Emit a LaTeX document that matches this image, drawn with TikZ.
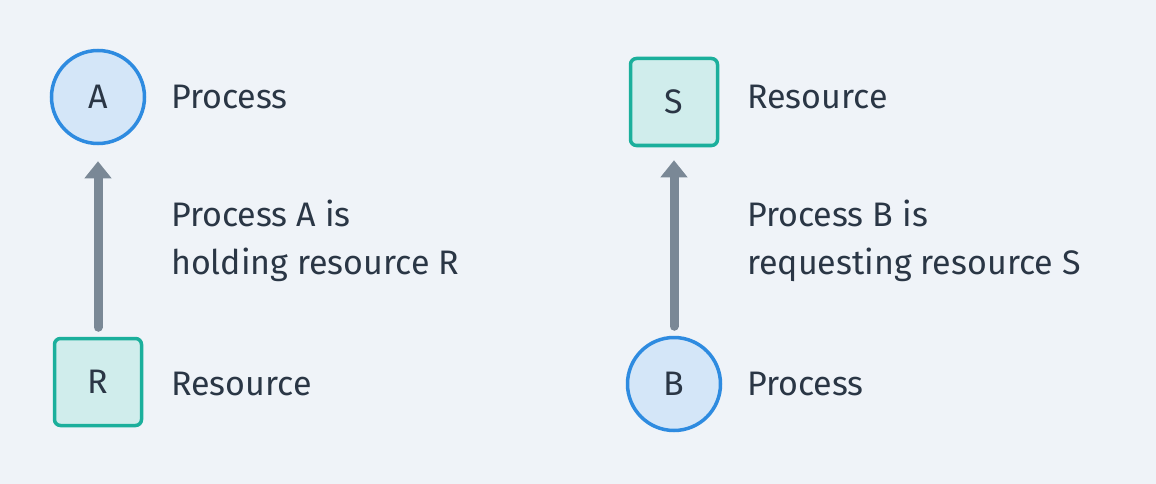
\documentclass[tikz,border=0pt]{standalone}
\usepackage{fontspec}
\setmainfont{Fira Sans}
\usetikzlibrary{arrows.meta}
\definecolor{bgpage}{HTML}{EFF3F8}
\definecolor{procfill}{HTML}{D4E6F8}
\definecolor{procdraw}{HTML}{2E8BE0}
\definecolor{resfill}{HTML}{D0EDEC}
\definecolor{resdraw}{HTML}{1BAF9C}
\definecolor{edgegray}{HTML}{7A8896}
\definecolor{inkdark}{HTML}{2A3645}
\begin{document}
\begin{tikzpicture}[
  x=1pt, y=-1pt,
  every node/.style={
    text=inkdark, font=\fontsize{34}{48}\selectfont,
  },
  process/.style={
    circle, draw=procdraw, fill=procfill, line width=3.5pt, minimum size=93pt
  },
  resource/.style={
    rectangle, rounded corners=6pt, draw=resdraw, fill=resfill,
    line width=3.5pt, minimum size=87pt
  },
  caption/.style={anchor=west, inner sep=0pt, align=left},
  edge/.style={
    draw=edgegray, line width=9pt, line cap=round,
    -{Triangle[width=26pt, length=17pt]}
  }
  ]
  \fill[bgpage] (0,0) rectangle (1156,484);
  \useasboundingbox (0,0) rectangle (1156,484);
  % holding
  \node[process] (A) at (98,97) {A};
  \node[resource] (R) at (98,382) {R};
  \node[caption] (Alabel) at (171,97) {Process};
  \node[caption] (Rlabel) at (171,384) {Resource};
  \node[caption] (hold) at (171,241) {Process A is\\holding resource R};
  \draw[edge, shorten <=9.5pt, shorten >=16pt] (R) -- (A);
  % requesting
  \node[resource] (S) at (674,102) {S};
  \node[process] (B) at (674,384) {B};
  \node[caption] (Slabel) at (747,97) {Resource};
  \node[caption] (Blabel) at (747,384) {Process};
  \node[caption] (req) at (747,241) {Process B is\\requesting resource S};
  \draw[edge, shorten <=9.5pt, shorten >=13pt] (B) -- (S);
\end{tikzpicture}
\end{document}
